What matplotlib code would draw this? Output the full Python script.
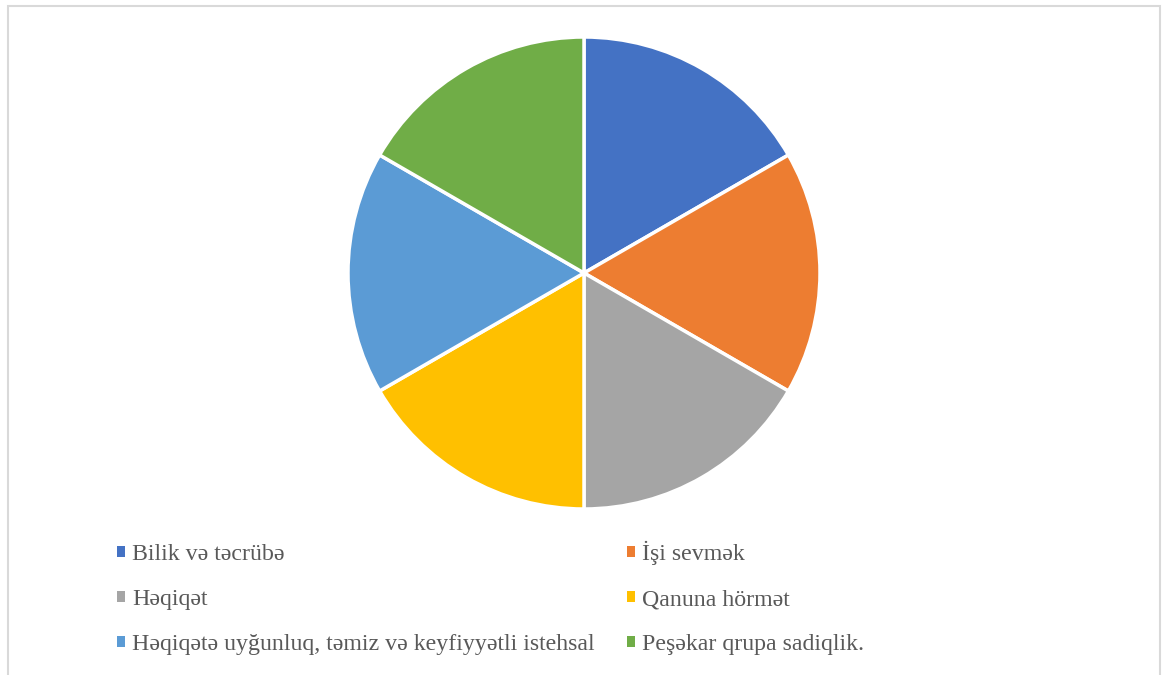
import matplotlib.pyplot as plt
from matplotlib.patches import Patch, Rectangle

plt.rcParams["font.family"] = ["Liberation Serif", "DejaVu Serif"]

labels = [
    "Bilik və təcrübə",
    "İşi sevmək",
    "Həqiqət",
    "Qanuna hörmət",
    "Həqiqətə uyğunluq, təmiz və keyfiyyətli istehsal",
    "Peşəkar qrupa sadiqlik.",
]
values = [1, 1, 1, 1, 1, 1]
colors = ["#4472C4", "#ED7D31", "#A5A5A5", "#FFC000", "#5B9BD5", "#70AD47"]

W, H = 1163, 675
fig = plt.figure(figsize=(W / 100, H / 100), dpi=100)

# chart area frame (open at the bottom)
fig.patches.append(
    Rectangle((8 / W, -0.05), 1152 / W, 1.05 - 6 / H, transform=fig.transFigure,
              fill=False, edgecolor="#d9d9d9", linewidth=1.5)
)

cx, cy, r = 584, 273, 236
ax = fig.add_axes([(cx - r) / W, (H - cy - r) / H, 2 * r / W, 2 * r / H])
ax.pie(values, colors=colors, startangle=90, counterclock=False,
       wedgeprops=dict(edgecolor="white", linewidth=2.5))
ax.set_xlim(-1, 1)
ax.set_ylim(-1, 1)
ax.set_aspect("equal")
ax.axis("off")

handles = [Patch(facecolor=c, edgecolor="none") for c in colors]
order = [0, 2, 4, 1, 3, 5]
fig.legend([handles[i] for i in order], [labels[i] for i in order],
           ncol=2, loc="upper left", bbox_to_anchor=(117 / W, 1 - 541 / H),
           frameon=False, fontsize=17.2, labelcolor="#595959",
           handlelength=0.34, handleheight=0.34, handletextpad=0.3,
           labelspacing=1.0, columnspacing=1.35, borderpad=0, borderaxespad=0)

fig.savefig("out.png", dpi=100, facecolor="white")
